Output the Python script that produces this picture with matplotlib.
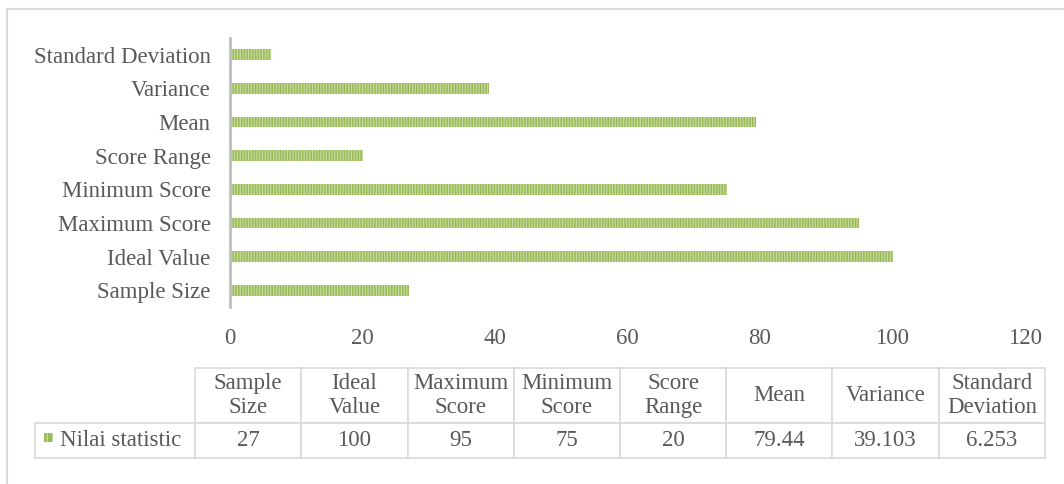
import matplotlib
matplotlib.use("Agg")
import matplotlib.pyplot as plt
from matplotlib.patches import Rectangle
from matplotlib.table import Table

categories = ["Sample Size", "Ideal Value", "Maximum Score", "Minimum Score",
              "Score Range", "Mean", "Variance", "Standard Deviation"]
header_labels = ["Sample\nSize", "Ideal\nValue", "Maximum\nScore", "Minimum\nScore",
                 "Score\nRange", "Mean", "Variance", "Standard\nDeviation"]
values = [27, 100, 95, 75, 20, 79.44, 39.103, 6.253]
value_labels = ["27", "100", "95", "75", "20", "79.44", "39.103", "6.253"]
series_name = "Nilai statistic"
xticks = [0, 20, 40, 60, 80, 100, 120]

W, H = 1064, 484
FS = 16.5
plt.rcParams['font.family'] = ['Liberation Serif', 'DejaVu Serif']
plt.rcParams['hatch.linewidth'] = 0.8
text_color = '#595959'
green = '#9BBB59'
stripe = '#C9DDA5'

fig = plt.figure(figsize=(W / 100, H / 100), dpi=100)

def fx(px):
    return px / W

def fy(py):
    return 1 - py / H

# outer frame
fig.patches.append(Rectangle((fx(7), fy(490)), fx(1070) - fx(7), fy(9) - fy(490),
                             transform=fig.transFigure, fill=False,
                             edgecolor='#D9D9D9', lw=1.5))

ax = fig.add_axes([fx(230), fy(307), fx(1025) - fx(230), fy(38) - fy(307)])
ypos = list(range(len(categories)))
ax.barh(ypos, values, height=0.32, color=green, hatch='||||||', edgecolor=stripe, lw=0)
ax.set_xlim(0, 120)
ax.set_ylim(-0.5, len(categories) - 0.5)
ax.set_yticks(ypos)
ax.set_yticklabels(categories, fontsize=FS, color=text_color)
ax.set_xticks(xticks)
ax.set_xticklabels([str(t) for t in xticks], fontsize=FS, color=text_color)
ax.tick_params(axis='both', length=0)
ax.tick_params(axis='x', pad=15)
ax.tick_params(axis='y', pad=14)
for s in ['top', 'right', 'bottom']:
    ax.spines[s].set_visible(False)
ax.spines['left'].set_color('#BFBFBF')
ax.spines['left'].set_linewidth(2)

# data table
tax = fig.add_axes([fx(35), fy(458), fx(1045) - fx(35), fy(368) - fy(458)])
tax.axis('off')
tbl = Table(tax, bbox=[0, 0, 1, 1])
label_w = 160
col_w = (1045 - 195) / len(categories)
hdr_h = 55
row_h = 35

def style(c):
    c.set_edgecolor('#D9D9D9')
    c.set_linewidth(1.2)
    c.get_text().set_fontsize(FS)
    c.get_text().set_color(text_color)
    c.get_text().set_linespacing(1.22)

for j, lab in enumerate(header_labels):
    style(tbl.add_cell(0, j + 1, width=col_w, height=hdr_h, text=lab, loc='center'))
c = tbl.add_cell(0, 0, width=label_w, height=hdr_h, text='', loc='center')
c.set_edgecolor('none')
c = tbl.add_cell(1, 0, width=label_w, height=row_h, text="    " + series_name, loc='left')
style(c)
c.PAD = 0.01
for j, v in enumerate(value_labels):
    style(tbl.add_cell(1, j + 1, width=col_w, height=row_h, text=v, loc='center'))
tbl.auto_set_font_size(False)
tax.add_table(tbl)

# legend key in table
fig.patches.append(Rectangle((fx(44), fy(442)), fx(53) - fx(44), fy(433) - fy(442),
                             transform=fig.transFigure, facecolor=green,
                             hatch='|||', edgecolor=stripe, lw=0, zorder=10))

fig.savefig("out.png", dpi=100, facecolor='white')
